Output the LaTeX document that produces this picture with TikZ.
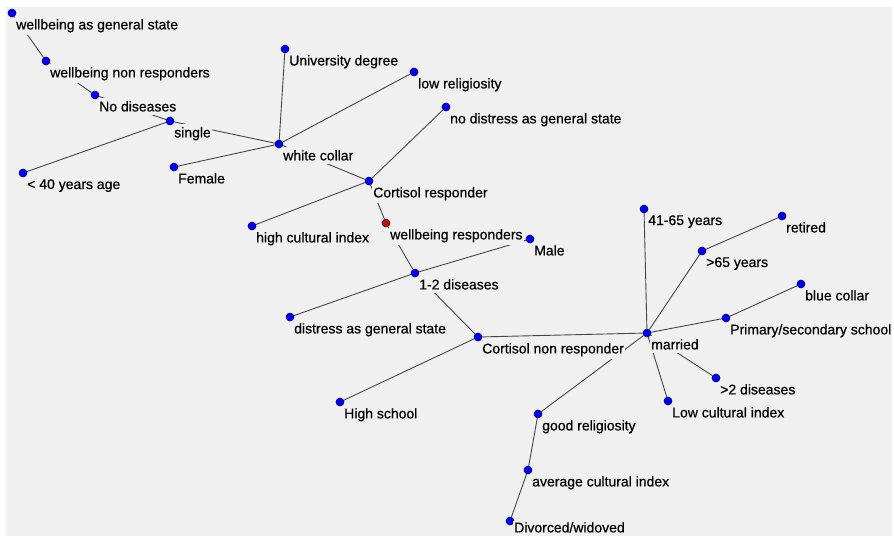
\documentclass[tikz,border=0pt]{standalone}
\usepackage{fontspec}
\setmainfont{Liberation Sans}
\newfontfamily\labfont[FakeBold=0.5]{Liberation Sans}
\usepackage{tikz}
\usepackage{xcolor}
\usetikzlibrary{shapes, positioning}

\definecolor{panel}{RGB}{240,240,240}
\definecolor{dotblue}{RGB}{0,0,235}
\definecolor{dotred}{RGB}{220,0,0}
\definecolor{edgegray}{RGB}{70,70,70}

\pgfdeclarelayer{edges}
\pgfsetlayers{edges,main}

\tikzset{
    lab/.style={fill=panel, inner xsep=1pt, inner ysep=3pt, font=\labfont\fontsize{14}{16}\selectfont},
    dot/.style={circle, draw=black!60!blue, line width=0.6pt, fill=dotblue, minimum size=8pt, inner sep=0pt},
    hot/.style={dot, draw=black!70!red, fill=dotred,
        path picture={\draw[black!70, line width=0.5pt]
            (path picture bounding box.north west) -- (path picture bounding box.south east)
            (path picture bounding box.north east) -- (path picture bounding box.south west);}},
    link/.style={edgegray, line width=0.9pt}
}

\begin{document}
\begin{tikzpicture}[x=1pt, y=-1pt]
        \useasboundingbox (0,0) rectangle (894,536);

        \node[dot, label={[lab]below right:wellbeing as general state}] (wgs) at (12,13) {};
        \node[dot, label={[lab]below right:wellbeing non responders}] (wnr) at (46,61) {};
        \node[dot, label={[lab]below right:No diseases}] (nodis) at (95,95) {};
        \node[dot, label={[lab]below right:single}] (single) at (170,121) {};
        \node[dot, label={[lab]below right:< 40 years age}] (young) at (23,173) {};
        \node[dot, label={[lab]below right:Female}] (female) at (174,167) {};
        \node[dot, label={[lab]below right:white collar}] (white) at (279,144) {};
        \node[dot, label={[lab]below right:University degree}] (univ) at (285,49) {};
        \node[dot, label={[lab]below right:low religiosity}] (lowrel) at (414,72) {};
        \node[dot, label={[lab]below right:no distress as general state}] (nodistr) at (446,107) {};
        \node[dot, label={[lab]below right:Cortisol responder}] (cortr) at (369,181) {};
        \node[dot, label={[lab]below right:high cultural index}] (highcult) at (252,226) {};
        \node[hot, label={[lab]below right:wellbeing responders}] (wresp) at (386,223) {};
        \node[dot, label={[lab]below right:Male}] (male) at (530,239) {};
        \node[dot, label={[lab]below right:1-2 diseases}] (dis12) at (415,273) {};
        \node[dot, label={[lab]below right:distress as general state}] (distr) at (290,317) {};
        \node[dot, label={[lab]below right:Cortisol non responder}] (cortnr) at (478,337) {};
        \node[dot, label={[lab]below right:High school}] (highsch) at (340,402) {};
        \node[dot, label={[lab]below right:married}] (married) at (647,333) {};
        \node[dot, label={[lab]below right:41-65 years}] (midage) at (644,209) {};
        \node[dot, label={[lab]below right:>65 years}] (oldage) at (702,251) {};
        \node[dot, label={[lab]below right:retired}] (retired) at (782,216) {};
        \node[dot, label={[lab]below right:blue collar}] (blue) at (801,284) {};
        \node[dot, label={[lab]below right:Primary/secondary school}] (primsec) at (726,318) {};
        \node[dot, label={[lab]below right:>2 diseases}] (dis2) at (716,378) {};
        \node[dot, label={[lab]below right:Low cultural index}] (lowcult) at (668,401) {};
        \node[dot, label={[lab]below right:good religiosity}] (goodrel) at (538,414) {};
        \node[dot, label={[lab]below right:average cultural index}] (avgcult) at (528,470) {};
        \node[dot, label={[lab, inner ysep=1pt, yshift=3pt]below right:Divorced/widoved}] (divorced) at (510,521) {};

        \begin{pgfonlayer}{edges}
        \fill[panel] (6,7) rectangle (892,536);
        \draw[link] (wgs) to (wnr)
            (wnr) to (nodis)
            (nodis) to (single)
            (single) to (young)
            (single) to (white);
        \draw[link] (white) to (univ)
            (white) to (lowrel)
            (white) to (female)
            (white) to (cortr);
        \draw[link] (cortr) to (nodistr)
            (cortr) to (highcult)
            (cortr) to (wresp)
            (wresp) to (dis12);
        \draw[link] (dis12) to (male)
            (dis12) to (distr)
            (dis12) to (cortnr)
            (cortnr) to (highsch)
            (cortnr) to (married);
        \draw[link] (married) to (midage)
            (married) to (oldage)
            (oldage) to (retired)
            (married) to (primsec)
            (primsec) to (blue)
            (married) to (dis2)
            (married) to (lowcult)
            (married) to (goodrel)
            (goodrel) to (avgcult)
            (avgcult) to (divorced);
        \end{pgfonlayer}
    \end{tikzpicture}
\end{document}
